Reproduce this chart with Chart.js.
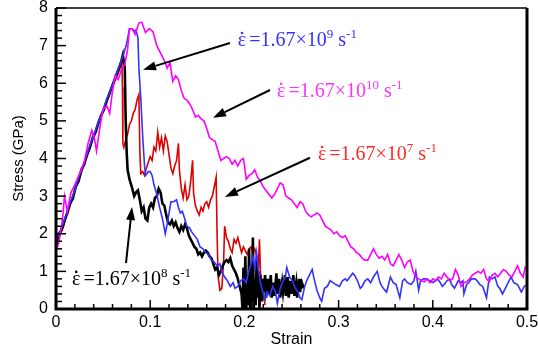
<!DOCTYPE html>
<html>
<head>
<meta charset="utf-8">
<script src="https://cdn.jsdelivr.net/npm/chart.js@4.4.1/dist/chart.umd.min.js"></script>
<style>
  html, body { margin: 0; padding: 0; background: #fff; }
  #wrap { width: 538px; height: 352px; }
</style>
</head>
<body>
<div id="wrap"><canvas id="stressChart"></canvas></div>
<script>
// axis ticks
const xTicks = [0, 0.1, 0.2, 0.3, 0.4, 0.5];
const yTicks = [0, 1, 2, 3, 4, 5, 6, 7, 8];

// [strain, stress GPa]
const rate1e10 = [[0,1.55],[0.003,1.75],[0.007,2.4],[0.009,3.0],[0.012,2.6],[0.016,3.1],[0.02,3.3],[0.025,3.6],[0.03,3.9],[0.034,4.4],[0.038,4.75],[0.041,4.5],[0.043,4.2],[0.047,4.9],[0.05,5.3],[0.054,5.4],[0.057,5.2],[0.06,5.8],[0.063,6.2],[0.066,6.1],[0.07,6.4],[0.073,6.5],[0.076,6.9],[0.078,7.45],[0.081,7.45],[0.084,7.3],[0.088,7.6],[0.091,7.62],[0.095,7.35],[0.099,7.45],[0.103,7.37],[0.107,7.0],[0.111,6.8],[0.115,6.6],[0.118,6.4],[0.121,6.55],[0.124,6.05],[0.127,6.2],[0.13,6.1],[0.133,5.8],[0.136,5.6],[0.139,5.55],[0.142,5.45],[0.145,5.3],[0.148,5.1],[0.151,5.15],[0.154,5.05],[0.157,5.0],[0.16,4.8],[0.163,4.55],[0.166,4.5],[0.169,4.45],[0.172,4.2],[0.175,3.95],[0.178,4.0],[0.181,4.05],[0.184,4.0],[0.187,3.85],[0.19,3.95],[0.193,3.8],[0.196,3.95],[0.199,4.0],[0.202,3.45],[0.205,3.55],[0.208,3.6],[0.211,3.7],[0.214,3.5],[0.217,3.4],[0.22,3.25],[0.223,3.15],[0.226,3.05],[0.229,2.95],[0.232,3.05],[0.235,3.2],[0.238,3.35],[0.241,3.3],[0.244,3.0],[0.247,2.95],[0.25,2.9],[0.253,2.8],[0.256,2.7],[0.259,2.85],[0.262,2.8],[0.265,2.6],[0.268,2.5],[0.271,2.45],[0.274,2.5],[0.277,2.55],[0.28,2.5],[0.283,2.35],[0.286,2.2],[0.289,2.15],[0.292,2.1],[0.295,2.0],[0.298,2.05],[0.301,1.95],[0.304,1.9],[0.307,1.95],[0.31,1.8],[0.313,1.65],[0.316,1.6],[0.319,1.5],[0.322,1.45],[0.325,1.35],[0.328,1.3],[0.331,1.3],[0.334,1.45],[0.337,1.6],[0.34,1.45],[0.343,1.35],[0.346,1.4],[0.349,1.3],[0.352,1.45],[0.355,1.2],[0.358,1.15],[0.361,1.3],[0.364,1.45],[0.367,1.3],[0.37,1.1],[0.373,1.25],[0.376,1.3],[0.379,1.0],[0.382,0.85],[0.385,0.8],[0.388,0.75],[0.391,0.72],[0.394,0.8],[0.397,0.7],[0.4,0.8],[0.403,0.75],[0.406,0.85],[0.409,0.8],[0.412,0.95],[0.415,0.85],[0.418,0.75],[0.421,0.8],[0.424,1.05],[0.427,0.9],[0.43,0.6],[0.433,0.7],[0.436,0.72],[0.439,0.8],[0.442,0.9],[0.445,0.95],[0.448,1.0],[0.451,0.95],[0.454,1.05],[0.457,0.8],[0.46,0.72],[0.463,0.9],[0.466,0.95],[0.469,0.85],[0.472,0.95],[0.475,1.05],[0.478,1.0],[0.481,0.9],[0.484,0.85],[0.487,1.0],[0.49,1.15],[0.493,0.95],[0.496,0.85],[0.498,1.1],[0.5,1.05]];

const rate1e9 = [[0,1.85],[0.004,2.05],[0.008,2.3],[0.012,2.6],[0.016,2.9],[0.02,3.15],[0.024,3.5],[0.028,3.75],[0.032,4.05],[0.036,4.35],[0.04,4.6],[0.044,4.9],[0.048,5.15],[0.052,5.45],[0.056,5.7],[0.06,5.95],[0.064,6.25],[0.068,6.5],[0.072,6.8],[0.075,7.05],[0.078,7.45],[0.081,7.45],[0.083,7.38],[0.085,7.42],[0.087,7.2],[0.088,6.4],[0.09,5.6],[0.092,4.6],[0.094,3.8],[0.095,3.55],[0.098,3.65],[0.1,3.65],[0.102,3.55],[0.104,3.3],[0.107,3.05],[0.11,2.7],[0.113,2.4],[0.116,2.0],[0.118,2.25],[0.12,2.55],[0.122,2.85],[0.125,2.85],[0.128,2.9],[0.13,2.7],[0.132,2.55],[0.134,2.6],[0.136,2.45],[0.139,2.2],[0.142,2.15],[0.144,2.05],[0.147,1.95],[0.15,1.85],[0.153,1.65],[0.156,1.6],[0.159,1.5],[0.162,1.45],[0.165,1.3],[0.168,1.25],[0.171,1.15],[0.174,1.2],[0.176,1.0],[0.179,0.85],[0.182,0.75],[0.185,0.6],[0.188,0.7],[0.19,0.55],[0.193,0.6],[0.196,0.75],[0.199,0.8],[0.202,0.7],[0.204,0.95],[0.207,1.2],[0.209,1.4],[0.211,1.1],[0.213,1.5],[0.215,1.0],[0.217,0.7],[0.219,0.5],[0.222,0.25],[0.224,0.45],[0.227,0.35],[0.23,0.6],[0.233,0.45],[0.235,0.15],[0.238,0.55],[0.241,0.75],[0.243,0.8],[0.245,1.1],[0.248,0.85],[0.251,0.75],[0.254,0.55],[0.257,0.45],[0.259,0.3],[0.261,0.25],[0.264,0.6],[0.266,0.75],[0.269,0.9],[0.272,1.05],[0.274,0.8],[0.277,0.5],[0.28,0.3],[0.282,0.2],[0.285,0.55],[0.288,0.6],[0.291,0.75],[0.294,0.7],[0.297,0.65],[0.301,0.6],[0.304,0.75],[0.307,0.8],[0.309,0.75],[0.312,0.85],[0.315,0.95],[0.317,0.9],[0.32,0.75],[0.323,0.55],[0.325,0.6],[0.328,0.75],[0.331,0.8],[0.334,0.7],[0.337,0.85],[0.341,1.0],[0.344,0.7],[0.346,0.6],[0.349,0.5],[0.351,0.45],[0.355,0.85],[0.358,0.7],[0.361,0.65],[0.365,0.3],[0.368,0.75],[0.37,0.8],[0.373,0.7],[0.377,0.65],[0.38,0.75],[0.382,1.0],[0.385,0.5],[0.387,0.75],[0.39,0.8],[0.393,0.8],[0.397,0.75],[0.4,0.7],[0.403,0.75],[0.405,0.8],[0.408,0.7],[0.41,0.6],[0.412,0.65],[0.415,0.75],[0.418,0.8],[0.42,0.65],[0.423,0.55],[0.427,0.75],[0.43,0.7],[0.432,0.75],[0.433,0.4],[0.436,0.65],[0.438,0.7],[0.441,0.8],[0.445,0.8],[0.447,0.75],[0.45,0.65],[0.453,0.6],[0.455,0.45],[0.457,0.3],[0.46,0.85],[0.463,0.8],[0.466,0.85],[0.469,0.6],[0.471,0.55],[0.474,0.4],[0.477,0.55],[0.48,0.7],[0.483,0.85],[0.486,0.7],[0.49,0.65],[0.494,0.45],[0.497,0.6],[0.5,0.65]];

const rate1e8 = [[0,1.7],[0.003,2.0],[0.006,2.1],[0.009,2.35],[0.012,2.55],[0.015,2.8],[0.018,2.95],[0.021,3.25],[0.024,3.4],[0.027,3.7],[0.03,3.85],[0.033,4.1],[0.036,4.3],[0.039,4.55],[0.042,4.7],[0.045,4.95],[0.048,5.15],[0.051,5.3],[0.054,5.55],[0.057,5.75],[0.06,5.95],[0.063,6.15],[0.066,6.35],[0.069,6.55],[0.071,6.75],[0.073,6.4],[0.074,5.0],[0.075,4.2],[0.076,3.7],[0.078,3.45],[0.081,3.2],[0.083,3.0],[0.085,3.1],[0.087,3.15],[0.089,2.9],[0.091,2.6],[0.093,2.7],[0.095,2.4],[0.097,2.35],[0.099,2.7],[0.101,2.8],[0.103,2.7],[0.105,2.95],[0.107,3.0],[0.109,3.2],[0.111,3.1],[0.113,2.8],[0.115,2.75],[0.117,2.5],[0.119,2.3],[0.121,2.25],[0.123,2.35],[0.125,2.2],[0.127,2.3],[0.129,2.15],[0.131,2.05],[0.133,2.2],[0.135,2.1],[0.137,2.25],[0.139,2.15],[0.141,1.95],[0.143,1.85],[0.145,1.75],[0.147,1.65],[0.149,1.6],[0.151,1.45],[0.153,1.5],[0.155,1.4],[0.157,1.5],[0.159,1.55],[0.161,1.5],[0.163,1.4],[0.165,1.35],[0.167,1.2],[0.169,1.05],[0.171,1.1],[0.173,0.9],[0.175,1.0],[0.177,1.15],[0.179,1.25],[0.181,1.3],[0.183,1.25],[0.185,1.35],[0.187,1.15],[0.189,1.05],[0.191,0.95],[0.193,0.8],[0.195,0.6],[0.197,0.4],[0.198,0.0],[0.199,1.1],[0.2,0.05],[0.201,1.4],[0.202,0.0],[0.203,0.9],[0.204,0.1],[0.205,1.6],[0.206,0.0],[0.207,1.2],[0.208,0.2],[0.209,1.9],[0.21,0.0],[0.211,0.8],[0.212,0.1],[0.213,1.3],[0.214,0.3],[0.215,1.0],[0.216,0.0],[0.217,0.9],[0.218,0.2],[0.219,0.8],[0.22,0.5],[0.222,0.9],[0.223,0.3],[0.225,0.8],[0.226,0.4],[0.228,0.9],[0.229,0.3],[0.231,0.7],[0.232,0.35],[0.234,0.95],[0.235,0.4],[0.237,0.8],[0.238,0.3],[0.24,0.7],[0.241,0.45],[0.243,0.9],[0.244,0.35],[0.246,0.85],[0.247,0.3],[0.249,0.75],[0.25,0.4],[0.252,0.9],[0.253,0.35],[0.255,0.7],[0.256,0.3],[0.258,0.8],[0.259,0.45],[0.261,0.7],[0.263,0.55]];

const rate1e7 = [[0,1.65],[0.004,1.95],[0.008,2.2],[0.012,2.6],[0.016,2.85],[0.02,3.15],[0.024,3.45],[0.028,3.7],[0.032,4.05],[0.036,4.3],[0.04,4.6],[0.044,4.85],[0.048,5.15],[0.052,5.4],[0.056,5.65],[0.06,5.9],[0.064,6.15],[0.068,6.4],[0.07,6.5],[0.0705,5.9],[0.071,4.4],[0.072,4.3],[0.074,4.5],[0.076,4.65],[0.078,4.9],[0.08,5.0],[0.082,5.2],[0.084,5.3],[0.086,5.55],[0.088,5.7],[0.089,4.2],[0.09,3.6],[0.092,3.65],[0.094,3.55],[0.096,3.75],[0.098,3.9],[0.1,4.05],[0.102,3.95],[0.104,4.3],[0.106,4.2],[0.108,4.7],[0.11,4.3],[0.112,4.55],[0.114,4.2],[0.116,4.6],[0.118,4.45],[0.12,4.1],[0.122,3.75],[0.124,3.6],[0.126,3.8],[0.128,3.95],[0.13,4.4],[0.131,3.7],[0.133,3.2],[0.135,2.95],[0.137,3.3],[0.139,2.9],[0.141,3.0],[0.143,3.4],[0.145,3.95],[0.146,3.1],[0.148,2.75],[0.15,2.6],[0.152,2.5],[0.154,2.7],[0.156,2.6],[0.158,2.8],[0.16,2.85],[0.162,2.7],[0.164,2.9],[0.166,3.0],[0.168,3.25],[0.17,3.5],[0.171,2.0],[0.172,0.9],[0.174,0.5],[0.176,0.55],[0.178,1.3],[0.179,2.2],[0.181,1.9],[0.183,1.8],[0.185,1.6],[0.187,1.5],[0.189,1.85],[0.191,1.75],[0.193,1.9],[0.195,1.7],[0.197,1.5],[0.199,1.65],[0.201,1.55],[0.203,1.45],[0.205,1.6],[0.207,1.65],[0.209,1.5],[0.211,1.6],[0.213,1.4],[0.215,1.2],[0.216,1.85],[0.217,1.0],[0.218,0.7],[0.22,0.4],[0.222,0.1]];

// annotation anchors in data units: label baseline start, arrow tail, arrow tip
const notes = [
  { exp: '9',  color: '#3333ff', at: [0.193, 6.99],  from: [0.1847, 7.07], to: [0.0924, 6.36] },
  { exp: '10', color: '#ff33ff', at: [0.2346, 5.64], from: [0.2272, 5.82], to: [0.1667, 5.08] },
  { exp: '7',  color: '#ff2a2a', at: [0.278, 3.96],  from: [0.2696, 4.02], to: [0.1794, 2.98] },
  { exp: '8',  color: '#000000', at: [0.017, 0.64],  from: [0.0743, 1.22], to: [0.0807, 2.71] }
];

function toPoints(arr) {
  return arr.map(p => ({ x: p[0], y: p[1] }));
}

function drawArrow(ctx, x1, y1, x2, y2) {
  const ang = Math.atan2(y2 - y1, x2 - x1);
  const len = 13, half = 4.5;
  const bx = x2 - len * Math.cos(ang), by = y2 - len * Math.sin(ang);
  ctx.beginPath();
  ctx.moveTo(x1, y1);
  ctx.lineTo(bx, by);
  ctx.lineWidth = 2;
  ctx.stroke();
  ctx.beginPath();
  ctx.moveTo(x2, y2);
  ctx.lineTo(bx + half * Math.sin(ang), by - half * Math.cos(ang));
  ctx.lineTo(bx - half * Math.sin(ang), by + half * Math.cos(ang));
  ctx.closePath();
  ctx.fill();
}

// "ε̇ = 1.67×10^n s^-1" with the dot and superscripts placed by hand
function drawRate(ctx, x, y, exp, color) {
  const big = '20px "Liberation Serif"', small = '13px "Liberation Serif"';
  ctx.fillStyle = color;
  ctx.textBaseline = 'alphabetic';
  ctx.textAlign = 'left';
  ctx.font = big;
  const epsW = ctx.measureText('\u03B5').width;
  ctx.fillText('\u03B5', x, y);
  ctx.beginPath();
  ctx.arc(x + epsW / 2, y - 13, 1.3, 0, Math.PI * 2);
  ctx.fill();
  x += epsW + 3;
  const main = '=1.67\u00D710';
  ctx.fillText(main, x, y);
  x += ctx.measureText(main).width;
  ctx.font = small;
  ctx.fillText(exp, x, y - 8);
  x += ctx.measureText(exp).width;
  ctx.font = big;
  ctx.fillText(' s', x, y);
  x += ctx.measureText(' s').width;
  ctx.font = small;
  ctx.fillText('-1', x, y - 8);
}

const frameAndNotes = {
  id: 'frameAndNotes',
  afterDatasetsDraw(chart) {
    const { ctx, chartArea: a, scales: { x, y } } = chart;
    ctx.save();
    ctx.strokeStyle = '#000';
    ctx.lineCap = 'butt';

    // inward ticks
    ctx.lineWidth = 1.5;
    for (let i = 0; i <= 25; i++) {
      const px = x.getPixelForValue(i * 0.02);
      const len = i % 5 === 0 ? 9 : 5;
      ctx.beginPath();
      ctx.moveTo(px, a.bottom);
      ctx.lineTo(px, a.bottom - len);
      ctx.stroke();
    }
    for (let i = 0; i <= 40; i++) {
      const py = y.getPixelForValue(i * 0.2);
      const len = i % 5 === 0 ? 10 : 6;
      ctx.beginPath();
      ctx.moveTo(a.left, py);
      ctx.lineTo(a.left + len, py);
      ctx.stroke();
    }

    // frame
    ctx.lineWidth = 3;
    ctx.beginPath();
    ctx.moveTo(a.left, a.top);
    ctx.lineTo(a.left, a.bottom);
    ctx.lineTo(a.right, a.bottom);
    ctx.lineTo(a.right, a.top);
    ctx.stroke();
    ctx.lineWidth = 1.5;
    ctx.beginPath();
    ctx.moveTo(a.left, a.top);
    ctx.lineTo(a.right, a.top);
    ctx.stroke();

    // labels and arrows
    notes.forEach(n => {
      ctx.fillStyle = '#000';
      ctx.strokeStyle = '#000';
      drawArrow(ctx,
        x.getPixelForValue(n.from[0]), y.getPixelForValue(n.from[1]),
        x.getPixelForValue(n.to[0]), y.getPixelForValue(n.to[1]));
      drawRate(ctx, x.getPixelForValue(n.at[0]), y.getPixelForValue(n.at[1]), n.exp, n.color);
    });
    ctx.restore();
  }
};

const axisFont = { family: '"Liberation Sans", Arial, sans-serif', size: 16 };

new Chart(document.getElementById('stressChart'), {
  type: 'scatter',
  data: {
    datasets: [
      { label: '1.67e10', data: toPoints(rate1e10), borderColor: '#ff00ff', borderWidth: 1.6 },
      { label: '1.67e9', data: toPoints(rate1e9), borderColor: '#3333ff', borderWidth: 1.6 },
      { label: '1.67e8', data: toPoints(rate1e8), borderColor: '#000000', borderWidth: 2.6 },
      { label: '1.67e7', data: toPoints(rate1e7), borderColor: '#dd0000', borderWidth: 1.6 }
    ].map(d => Object.assign(d, { showLine: true, pointRadius: 0, tension: 0, fill: false }))
  },
  options: {
    responsive: true,
    maintainAspectRatio: false,
    animation: false,
    layout: { padding: { top: 8, right: 11, left: 0, bottom: 0 } },
    plugins: { legend: { display: false }, tooltip: { enabled: false } },
    scales: {
      x: {
        type: 'linear',
        min: xTicks[0],
        max: xTicks[xTicks.length - 1],
        afterBuildTicks: s => { s.ticks = xTicks.map(v => ({ value: v })); },
        afterFit: s => { s.height = 43; s.paddingLeft = 0; s.paddingRight = 0; },
        grid: { display: false, drawTicks: false },
        border: { display: false },
        ticks: { color: '#000', font: axisFont, padding: 4, maxRotation: 0 },
        title: { display: true, text: 'Strain', color: '#000', font: axisFont, padding: { top: 0, bottom: 3 } }
      },
      y: {
        type: 'linear',
        min: yTicks[0],
        max: yTicks[yTicks.length - 1],
        afterBuildTicks: s => { s.ticks = yTicks.map(v => ({ value: v })); },
        afterFit: s => { s.width = 56; s.paddingTop = 0; s.paddingBottom = 0; },
        grid: { display: false, drawTicks: false },
        border: { display: false },
        ticks: { color: '#000', font: axisFont, padding: 8 },
        title: { display: true, text: 'Stress (GPa)', color: '#000', font: { family: axisFont.family, size: 15 }, padding: { top: 10, bottom: 0 } }
      }
    }
  },
  plugins: [frameAndNotes]
});
</script>
</body>
</html>
